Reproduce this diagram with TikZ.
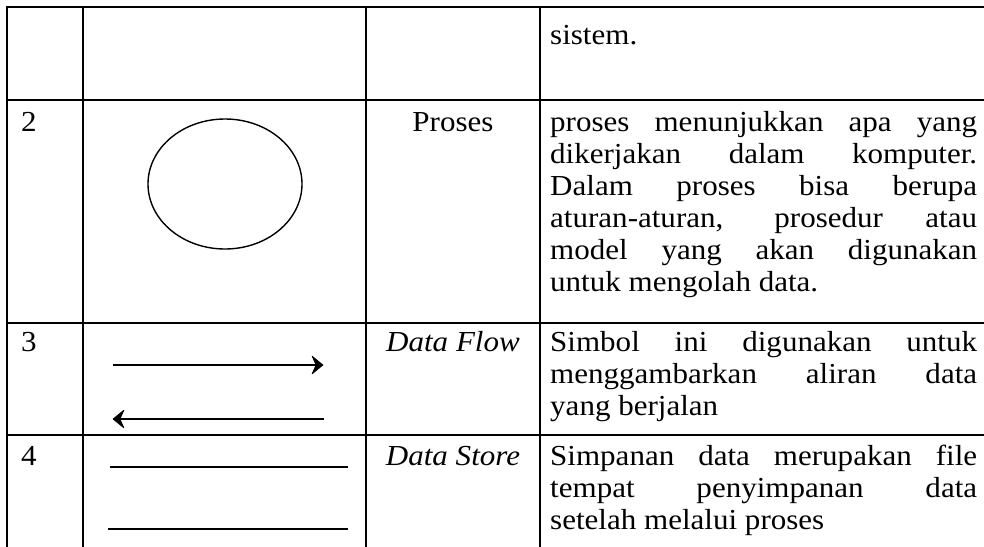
\documentclass[tikz,border=0pt]{standalone}
\usepackage{fontspec}
\setmainfont{Liberation Serif}
\usetikzlibrary{arrows.meta}
\newcommand\jl[1]{\makebox[399pt][s]{#1}\\}
\newcommand\cellfont{\fontsize{29}{32}\selectfont}
\newcommand\wide[1]{\scalebox{1.07}[1]{#1}}
\tikzset{
  gridline/.style={line width=1.5pt},
  txt/.style={inner sep=0pt, anchor=base west, font=\cellfont},
  mid/.style={inner sep=0pt, anchor=base, font=\cellfont},
  sym/.style={line width=1.8pt},
  head/.style={fill=black, draw=black, line width=0.6pt, line join=round},
}
\begin{document}
\begin{tikzpicture}[x=1pt,y=-1pt]
\useasboundingbox (0,0) rectangle (984,546);
% table rules
\foreach \yy in {7,100,323,435} \draw[gridline] (6.25,\yy) -- (990,\yy);
\foreach \xx in {7,83,366,540} \draw[gridline] (\xx,6.25) -- (\xx,550);
% row 1 (continued)
\node[txt] (d1) at (550,44) {\wide{sistem.}};
% row 2
\node[txt] (n2) at (21,131) {\wide{2}};
\draw[line width=1.4pt] (225,184) ellipse [x radius=77, y radius=65];
\node[mid] (l2) at (453,131) {\wide{Proses}};
\node[txt] (d2) at (550,131) {\wide{\parbox[t]{399pt}{\cellfont
 \jl{proses menunjukkan apa yang}
 \jl{dikerjakan dalam komputer.}
 \jl{Dalam proses bisa berupa}
 \jl{aturan-aturan, prosedur atau}
 \jl{model yang akan digunakan}
 untuk mengolah data.}}};
% row 3
\node[txt] (n3) at (21,351) {\wide{3}};
\coordinate (fa1) at (113,365);
\coordinate (fa2) at (323,365);
\coordinate (fb1) at (324,419);
\coordinate (fb2) at (113,419);
\draw[sym] (fa1) -- ([xshift=-6pt]fa2);
\fill[head] (fa2) -- ++(-11,-9) -- ++(4,9) -- ++(-4,9) -- cycle;
\draw[sym] (fb1) -- ([xshift=6pt]fb2);
\fill[head] (fb2) -- ++(11,-9) -- ++(-4,9) -- ++(4,9) -- cycle;
\node[mid] (l3) at (453,351) {\wide{\itshape Data Flow}};
\node[txt] (d3) at (550,351) {\wide{\parbox[t]{399pt}{\cellfont
 \jl{Simbol ini digunakan untuk}
 \jl{menggambarkan aliran data}
 yang berjalan}}};
% row 4
\node[txt] (n4) at (21,465) {\wide{4}};
\coordinate (s1a) at (110,467);
\coordinate (s1b) at (348,467);
\coordinate (s2a) at (108,529);
\coordinate (s2b) at (348,529);
\draw[sym] (s1a) -- (s1b);
\draw[sym] (s2a) -- (s2b);
\node[mid] (l4) at (453,465) {\wide{\itshape Data Store}};
\node[txt] (d4) at (550,465) {\wide{\parbox[t]{399pt}{\cellfont
 \jl{Simpanan data merupakan file}
 \jl{tempat penyimpanan data}
 setelah melalui proses}}};
\end{tikzpicture}
\end{document}
